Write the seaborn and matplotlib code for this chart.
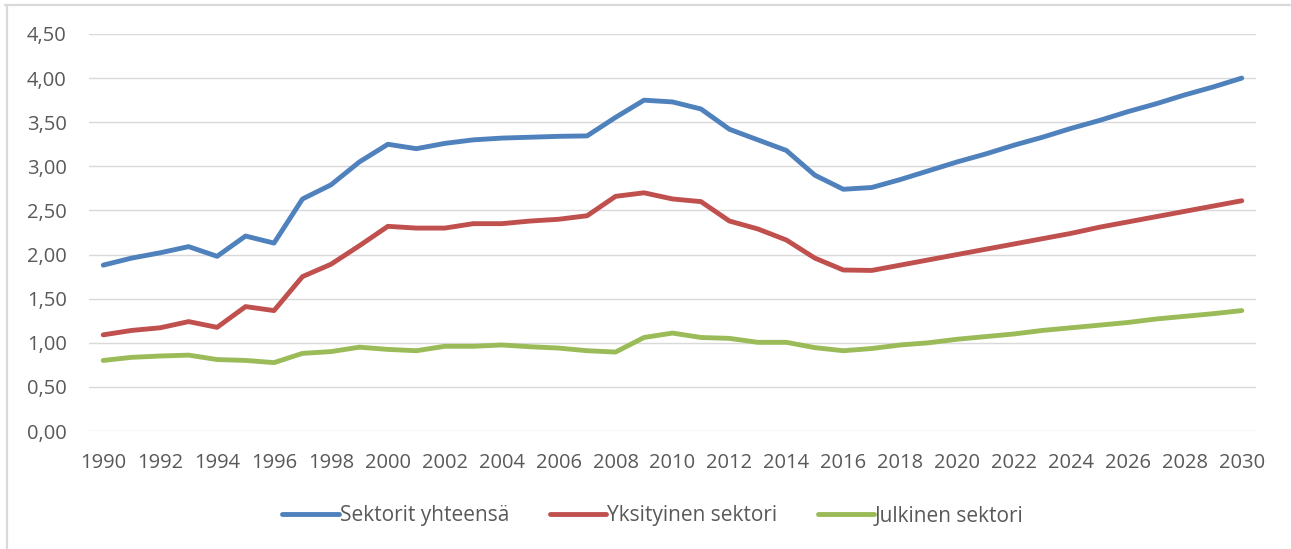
import matplotlib
matplotlib.use("Agg")
import matplotlib.pyplot as plt
from matplotlib.lines import Line2D
from matplotlib.ticker import FuncFormatter
import pandas as pd
import seaborn as sns

# Years 1990-2030
years = list(range(1990, 2031))

sektorit_yhteensa = [
    1.88, 1.96, 2.02, 2.09, 1.98, 2.21, 2.13, 2.63, 2.79, 3.05,
    3.25, 3.20, 3.26, 3.30, 3.32, 3.33, 3.34, 3.345, 3.555, 3.75,
    3.73, 3.65, 3.42, 3.30, 3.18, 2.90, 2.74, 2.76, 2.85, 2.95,
    3.05, 3.14, 3.24, 3.33, 3.43, 3.52, 3.62, 3.71, 3.81, 3.90,
    4.00,
]
yksityinen_sektori = [
    1.09, 1.14, 1.17, 1.24, 1.175, 1.41, 1.365, 1.75, 1.89, 2.10,
    2.32, 2.30, 2.30, 2.35, 2.35, 2.38, 2.40, 2.44, 2.66, 2.70,
    2.63, 2.60, 2.38, 2.29, 2.165, 1.96, 1.825, 1.82, 1.88, 1.94,
    2.00, 2.06, 2.12, 2.18, 2.24, 2.31, 2.37, 2.43, 2.49, 2.55,
    2.61,
]
julkinen_sektori = [
    0.80, 0.835, 0.85, 0.86, 0.81, 0.80, 0.775, 0.88, 0.90, 0.95,
    0.925, 0.91, 0.96, 0.96, 0.975, 0.955, 0.94, 0.91, 0.895, 1.06,
    1.11, 1.06, 1.05, 1.005, 1.005, 0.945, 0.91, 0.935, 0.975, 1.00,
    1.04, 1.07, 1.10, 1.14, 1.17, 1.20, 1.23, 1.27, 1.30, 1.33,
    1.365,
]

series_names = ["Sektorit yhteensä", "Yksityinen sektori", "Julkinen sektori"]
series_colors = ["#4F81BD", "#C0504D", "#9BBB59"]
y_ticks = [0.0, 0.5, 1.0, 1.5, 2.0, 2.5, 3.0, 3.5, 4.0, 4.5]
x_tick_years = list(range(1990, 2031, 2))

df = pd.concat(
    [
        pd.DataFrame({"Vuosi": years, "Arvo": vals, "Sektori": name})
        for name, vals in zip(series_names,
                              [sektorit_yhteensa, yksityinen_sektori, julkinen_sektori])
    ],
    ignore_index=True,
)

sns.set_theme(style="white")
plt.rcParams["font.family"] = ["Open Sans", "DejaVu Sans"]

W, H = 1291, 549
fig = plt.figure(figsize=(W / 100, H / 100), dpi=100)
ax = fig.add_axes([89 / W, 1 - 431 / H, (1256 - 89) / W, (431 - 34) / H])

sns.lineplot(
    data=df, x="Vuosi", y="Arvo", hue="Sektori",
    hue_order=series_names, palette=series_colors,
    linewidth=3.5, ax=ax, legend=False,
    solid_capstyle="round", solid_joinstyle="round",
)

ax.set_xlim(1989.5, 2030.5)
ax.set_ylim(0, 4.5)
ax.set_yticks(y_ticks)
ax.set_xticks(x_tick_years)
ax.yaxis.set_major_formatter(FuncFormatter(lambda v, p: f"{v:.2f}".replace(".", ",")))
ax.set_xlabel("")
ax.set_ylabel("")

ax.grid(axis="y", color="#D9D9D9", linewidth=1.0)
ax.grid(axis="x", visible=False)
ax.set_axisbelow(True)
for s in ax.spines.values():
    s.set_visible(False)

ax.tick_params(axis="both", length=0, labelsize=14.5, labelcolor="#595959")
ax.tick_params(axis="y", pad=16)
ax.tick_params(axis="x", pad=16)

handles = [Line2D([], [], color=c, linewidth=3.5, solid_capstyle="round") for c in series_colors]
leg = fig.legend(
    handles, series_names, loc="center", bbox_to_anchor=(653 / W, 1 - 516 / H),
    ncol=3, frameon=False, fontsize=15, handlelength=2.7, handletextpad=0.05,
    columnspacing=1.95,
)
for t in leg.get_texts():
    t.set_color("#595959")

# Chart frame edges
fig.add_artist(Line2D([5 / W, 1], [1 - 4.5 / H, 1 - 4.5 / H], color="#D9D9D9",
                      linewidth=1.6, transform=fig.transFigure))
fig.add_artist(Line2D([6.5 / W, 6.5 / W], [0, 1 - 4.5 / H], color="#D9D9D9",
                      linewidth=1.6, transform=fig.transFigure))

fig.savefig("out.png", dpi=100, facecolor="white")
